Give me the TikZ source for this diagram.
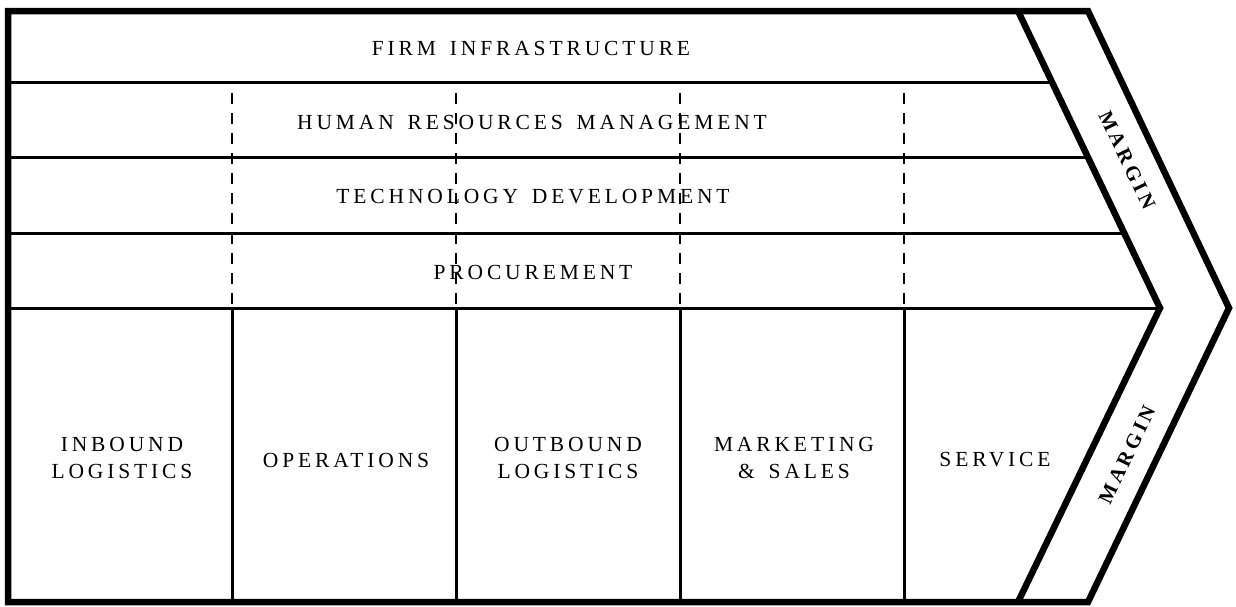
\documentclass[tikz,border=0pt]{standalone}
\usepackage{fontspec}
\setmainfont{Liberation Serif}[LetterSpace=18,WordSpace=1.5]
\usetikzlibrary{calc}
\begin{document}
\begin{tikzpicture}[x=1pt,y=-1pt,
  frame/.style={line width=6.5pt,line join=miter,miter limit=10},
  thin/.style={line width=3pt},
  dashline/.style={line width=2.6pt,dash pattern=on 11pt off 9pt},
  lbl/.style={inner sep=0pt,align=center,font=\fontsize{21.5}{27}\selectfont},
  mlbl/.style={inner sep=0pt,font=\fontsize{20.5}{27}\selectfont\bfseries}]
\useasboundingbox (0,0) rectangle (1236,606);
\fill[white] (0,0) rectangle (1236,606);
% key points
\coordinate (TL) at (8,11);
\coordinate (BL) at (8,602);
\coordinate (OT) at (1088,11);
\coordinate (OTIP) at (1229,308);
\coordinate (OB) at (1088,602);
\coordinate (IT) at (1018,11);
\coordinate (ITIP) at (1160,308);
\coordinate (IB) at (1018,602);
% horizontal band lines
\foreach \yy/\xx in {82/1052.1,157/1088.0,233/1124.5}{
  \draw[thin] (8,\yy) -- (\xx,\yy);
}
\draw[thin] (8,308) -- (ITIP);
% dashed verticals
\foreach \xx in {232,456,680,904}{
  \draw[dashline] (\xx,93) -- (\xx,308);
  \draw[thin] (\xx,308) -- (\xx,602);
}
% chevron and frame
\draw[frame] (IT) -- (ITIP) -- (IB);
\draw[frame] (TL) -- (OT) -- (OTIP) -- (OB) -- (BL) -- cycle;
% labels
\node[lbl] (firm) at (531,48) {FIRM INFRASTRUCTURE};
\node[lbl] (hrm) at (532,122) {HUMAN RESOURCES MANAGEMENT};
\node[lbl] (tech) at (533,197) {TECHNOLOGY DEVELOPMENT};
\node[lbl] (proc) at (533,272) {PROCUREMENT};
\node[lbl] (inb) at (122,458) {INBOUND\\LOGISTICS};
\node[lbl] (ops) at (346,460) {OPERATIONS};
\node[lbl] (outb) at (568,458) {OUTBOUND\\LOGISTICS};
\node[lbl] (mkt) at (794,458) {MARKETING\\\& SALES};
\node[lbl] (svc) at (995,460) {SERVICE};
\node[mlbl,rotate=-64.4] (m1) at (1127,160) {MARGIN};
\node[mlbl,rotate=64.4] (m2) at (1127,455) {MARGIN};
\end{tikzpicture}
\end{document}
